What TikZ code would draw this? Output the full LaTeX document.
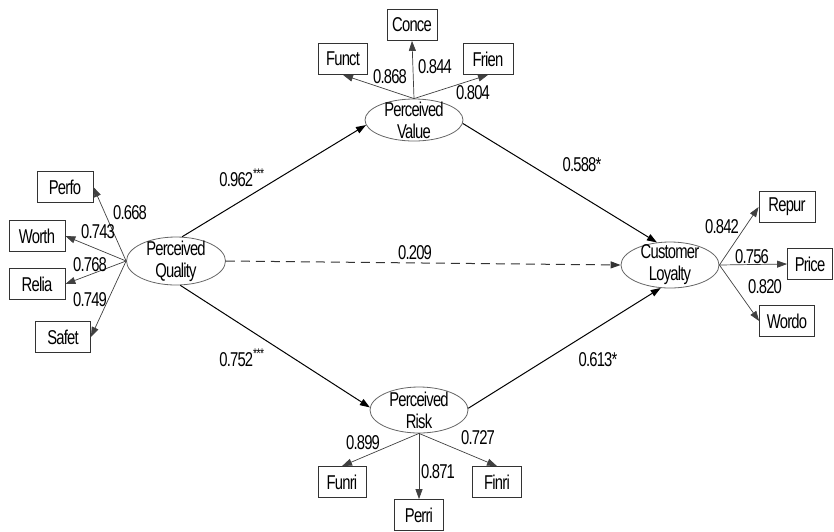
\documentclass[tikz,border=0pt]{standalone}
\usepackage{fontspec}
\setmainfont{Liberation Sans}[FakeStretch=0.74,LetterSpace=-4]
\usetikzlibrary{arrows.meta,shapes.geometric}

\begin{document}
\begin{tikzpicture}[x=1pt,y=-1pt,
  font=\fontsize{20}{22}\selectfont,
  latent/.style={ellipse,draw=black!60,line width=0.8pt,minimum width=98pt,minimum height=46pt,inner sep=0pt},
  lattext/.style={align=center,inner sep=0pt},
  manifest/.style={rectangle,draw=black!80,line width=0.8pt,minimum height=31pt,inner sep=0pt},
  coef/.style={inner sep=0pt},
  path/.style={draw=black,line width=1pt,-{Triangle[length=10pt,width=7pt]}},
  loading/.style={draw=black!75,line width=0.7pt,-{Triangle[length=10pt,width=7pt]}},
  weak/.style={path,draw=black!80,dash pattern=on 9pt off 6pt}]

\useasboundingbox (0,0) rectangle (834,531);

% latent constructs
\node[latent,minimum height=42pt] (pv) at (414,120) {};
\node[lattext] (pvt) at (414,120) {Perceived\\Value};
\node[latent,minimum height=48pt,minimum width=99pt] (pq) at (176,261) {};
\node[lattext] (pqt) at (176,261) {Perceived\\Quality};
\node[latent] (cl) at (670,265) {};
\node[lattext] (clt) at (670,265) {Customer\\Loyalty};
\node[latent] (pr) at (419,410) {};
\node[lattext] (prt) at (419,410) {Perceived\\Risk};

% indicators of perceived value
\node[manifest,minimum width=49pt] (funct) at (343,59) {Funct};
\node[manifest,minimum width=50pt] (conce) at (412,25) {Conce};
\node[manifest,minimum width=50pt] (frien) at (488,59) {Frien};

% indicators of perceived quality
\node[manifest,minimum width=56pt] (perfo) at (65,187) {Perfo};
\node[manifest,minimum width=56pt] (worth) at (37,236) {Worth};
\node[manifest,minimum width=56pt] (relia) at (37,284) {Relia};
\node[manifest,minimum width=55pt] (safet) at (63,337) {Safet};

% indicators of customer loyalty
\node[manifest,minimum width=56pt] (repur) at (787,207) {Repur};
\node[manifest,minimum width=45pt] (price) at (810,264) {Price};
\node[manifest,minimum width=55pt] (wordo) at (787,321) {Wordo};

% indicators of perceived risk
\node[manifest,minimum width=48pt] (funri) at (342,482) {Funri};
\node[manifest,minimum width=49pt] (perri) at (419,515) {Perri};
\node[manifest,minimum width=49pt] (finri) at (497,482) {Finri};

% structural paths
\draw[path] (pq.76) -- (pv.186);
\draw[path] (pv.-4) -- (cl.120);
\draw[path] (pq.-80) -- (pr.177);
\draw[path] (pr.2) -- (cl.-112);
\draw[weak] (pq.east) -- (cl.west);

% measurement loadings
\draw[loading] (pv.north) -- (funct.south);
\draw[loading] (pv.north) -- (conce.south);
\draw[loading] (pv.north) -- (frien.south);
\draw[loading] (pq.west) -- (perfo.east);
\draw[loading] (pq.west) -- (worth.east);
\draw[loading] (pq.west) -- (relia.east);
\draw[loading] (pq.west) -- (safet.east);
\draw[loading] (cl.east) -- (repur.west);
\draw[loading] (cl.east) -- (price.west);
\draw[loading] (cl.east) -- (wordo.west);
\draw[loading] (pr.south) -- (funri.north);
\draw[loading] (pr.south) -- (perri.north);
\draw[loading] (pr.south) -- (finri.north);

% coefficients
\node[coef] (c1) at (242,178) {0.962\textsuperscript{***}};
\node[coef] (c2) at (582,165) {0.588*};
\node[coef] (c3) at (415,253) {0.209};
\node[coef] (c4) at (242,358) {0.752\textsuperscript{***}};
\node[coef] (c5) at (598,360) {0.613*};

\node[coef] (l1) at (390,77) {0.868};
\node[coef] (l2) at (435,67) {0.844};
\node[coef] (l3) at (473,93) {0.804};
\node[coef] (l4) at (130,213) {0.668};
\node[coef] (l5) at (98,232) {0.743};
\node[coef] (l6) at (90,265) {0.768};
\node[coef] (l7) at (90,300) {0.749};
\node[coef] (l8) at (722,227) {0.842};
\node[coef] (l9) at (752,257) {0.756};
\node[coef] (l10) at (765,287) {0.820};
\node[coef] (l11) at (363,443) {0.899};
\node[coef] (l12) at (438,472) {0.871};
\node[coef] (l13) at (478,438) {0.727};
\end{tikzpicture}
\end{document}
